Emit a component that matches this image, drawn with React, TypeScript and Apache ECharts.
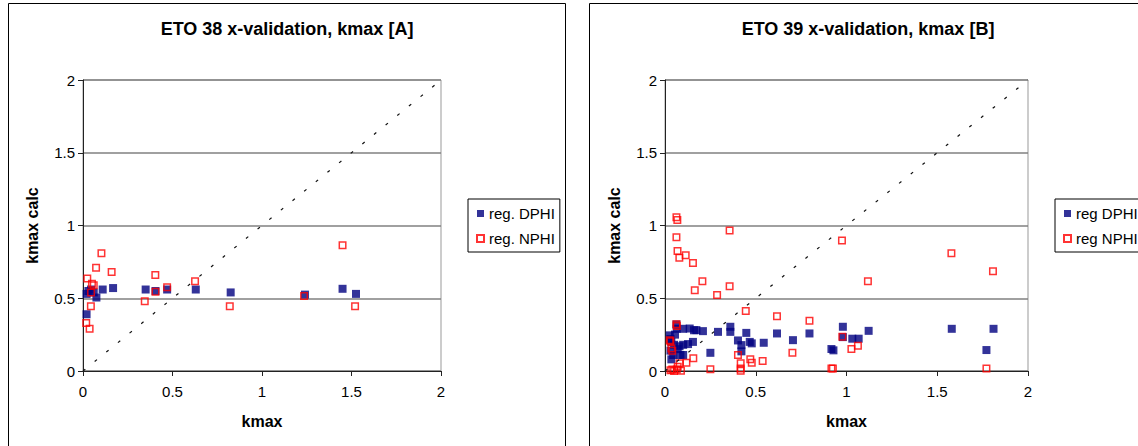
import React, { useEffect, useRef } from "react";
import * as echarts from "echarts";

const titles = ["ETO 38 x-validation, kmax [A]", "ETO 39 x-validation, kmax [B]"];
const xAxisName = "kmax";
const yAxisName = "kmax calc";
const legendA = ["reg. DPHI", "reg. NPHI"];
const legendB = ["reg DPHI", "reg NPHI"];
const axisTicks = [0, 0.5, 1, 1.5, 2];
const diagonal = [[0, 0], [2, 2]];

const dphiA = [
  [0.02, 0.39], [0.02, 0.53], [0.03, 0.55], [0.045, 0.56], [0.06, 0.54], [0.075, 0.505],
  [0.11, 0.56], [0.168, 0.57], [0.35, 0.56], [0.405, 0.55], [0.47, 0.56], [0.63, 0.56],
  [0.825, 0.54], [1.24, 0.525], [1.45, 0.565], [1.525, 0.53],
];
const nphiA = [
  [0.018, 0.33], [0.024, 0.635], [0.037, 0.29], [0.044, 0.445], [0.045, 0.54], [0.05, 0.6],
  [0.06, 0.59], [0.073, 0.71], [0.103, 0.81], [0.16, 0.68], [0.345, 0.48], [0.404, 0.66],
  [0.405, 0.545], [0.47, 0.575], [0.626, 0.616], [0.82, 0.445], [1.235, 0.516],
  [1.45, 0.865], [1.52, 0.445],
];
const dphiB = [
  [0.026, 0.245], [0.03, 0.22], [0.035, 0.2], [0.03, 0.14], [0.035, 0.08], [0.045, 0.11],
  [0.05, 0.18], [0.055, 0.25], [0.063, 0.32], [0.065, 0.29], [0.07, 0.15], [0.08, 0.17],
  [0.085, 0.11], [0.1, 0.29], [0.1, 0.18], [0.1, 0.11], [0.127, 0.185], [0.136, 0.292],
  [0.154, 0.2], [0.16, 0.28], [0.173, 0.281], [0.209, 0.274], [0.25, 0.125], [0.292, 0.269],
  [0.36, 0.304], [0.36, 0.269], [0.402, 0.21], [0.421, 0.178], [0.421, 0.135], [0.448, 0.262],
  [0.467, 0.2], [0.478, 0.19], [0.544, 0.194], [0.617, 0.258], [0.705, 0.212], [0.796, 0.258],
  [0.917, 0.151], [0.928, 0.142], [0.98, 0.304], [0.98, 0.233], [1.032, 0.222], [1.067, 0.222],
  [1.122, 0.276], [1.58, 0.29], [1.81, 0.29], [1.771, 0.144],
];
const nphiB = [
  [0.063, 1.057], [0.068, 1.038], [0.063, 0.92], [0.069, 0.824], [0.079, 0.779], [0.114, 0.795],
  [0.154, 0.742], [0.206, 0.616], [0.164, 0.555], [0.287, 0.523], [0.356, 0.582], [0.356, 0.966],
  [0.445, 0.413], [0.617, 0.377], [0.796, 0.345], [0.975, 0.897], [0.977, 0.235], [1.118, 0.616],
  [1.578, 0.81], [1.807, 0.685], [1.771, 0.018], [1.027, 0.151], [1.063, 0.174], [0.917, 0.018],
  [0.925, 0.018], [0.702, 0.125], [0.538, 0.068], [0.478, 0.057], [0.47, 0.08], [0.417, 0.053],
  [0.417, 0.018], [0.417, 0.002], [0.402, 0.11], [0.25, 0.012], [0.156, 0.087], [0.118, 0.057],
  [0.088, 0.002], [0.081, 0.053], [0.07, 0.03], [0.065, 0.01], [0.05, 0.0], [0.03, 0.005],
  [0.04, 0.01], [0.063, 0.322], [0.065, 0.31], [0.026, 0.212], [0.03, 0.205], [0.035, 0.155],
  [0.04, 0.14],
];

const FONT = "'Liberation Sans', Arial, sans-serif";

export default function App() {
  const ref = useRef<HTMLDivElement>(null);
  useEffect(() => {
    if (!ref.current) return;
    const chart = echarts.init(ref.current, null, { renderer: "svg" });
    const tMin = axisTicks[0];
    const tMax = axisTicks[axisTicks.length - 1];
    const tInt = axisTicks[1] - axisTicks[0];

    const grids = [
      { left: 83, top: 80, width: 358, height: 291 },
      { left: 665, top: 80, width: 363, height: 291 },
    ];
    const mkX = (i: number) => ({
      type: "value", gridIndex: i, min: tMin, max: tMax, interval: tInt,
      name: xAxisName, nameLocation: "middle", nameGap: 42,
      nameTextStyle: { fontFamily: FONT, fontSize: 16, fontWeight: "bold", color: "#000" },
      axisLine: { show: true, onZero: false, lineStyle: { color: "#222", width: 1 } },
      axisTick: { show: true, inside: false, length: 5, lineStyle: { color: "#222" } },
      axisLabel: { fontFamily: FONT, fontSize: 15, color: "#000", margin: 13 },
      splitLine: { show: false },
    });
    const mkY = (i: number) => ({
      type: "value", gridIndex: i, min: tMin, max: tMax, interval: tInt,
      name: yAxisName, nameLocation: "middle", nameGap: 43,
      nameTextStyle: { fontFamily: FONT, fontSize: 16, fontWeight: "bold", color: "#000" },
      axisLine: { show: true, onZero: false, lineStyle: { color: "#222", width: 1 } },
      axisTick: { show: true, inside: false, length: 5, lineStyle: { color: "#222" } },
      axisLabel: { fontFamily: FONT, fontSize: 15, color: "#000", margin: 8 },
      splitLine: { show: true, lineStyle: { color: "#808080", width: 1.5 } },
    });
    const dphiStyle = { color: "#000080" };
    const nphiStyle = { color: "rgba(255,255,255,0)", borderColor: "#ff0000", borderWidth: 1.5 };
    const mkLegend = (names: string[], left: number) => ({
      data: names, orient: "vertical", left, top: 199,
      padding: [7, 5, 6, 8], itemGap: 10, itemWidth: 7, itemHeight: 7,
      borderColor: "#000", borderWidth: 1, backgroundColor: "#fff",
      textStyle: { fontFamily: FONT, fontSize: 15, color: "#000" },
      selectedMode: false,
    });
    const diagSeries = (i: number) => ({
      type: "line", xAxisIndex: i, yAxisIndex: i, data: diagonal, symbol: "none",
      silent: true, clip: false,
      lineStyle: { color: "#111", width: 1.2, type: [3, 12] },
    });
    const titleStyle = { align: "center", verticalAlign: "middle", fontFamily: FONT, fontSize: 18, fontWeight: "bold", fill: "#000" };

    chart.setOption({
      animation: false,
      backgroundColor: "#fff",
      textStyle: { fontFamily: FONT },
      grid: grids.map((g) => ({ ...g, show: true, borderColor: "#999", borderWidth: 1, backgroundColor: "transparent" })),
      xAxis: [mkX(0), mkX(1)],
      yAxis: [mkY(0), mkY(1)],
      legend: [mkLegend(legendA, 468), mkLegend(legendB, 1055)],
      graphic: [
        { type: "rect", shape: { x: 8.5, y: 3.5, width: 557, height: 470 }, style: { fill: "none", stroke: "#000", lineWidth: 1 } },
        { type: "rect", shape: { x: 589.5, y: 3.5, width: 600, height: 470 }, style: { fill: "none", stroke: "#000", lineWidth: 1 } },
        { type: "text", x: 287, y: 29, style: { text: titles[0], ...titleStyle } },
        { type: "text", x: 868, y: 29, style: { text: titles[1], ...titleStyle } },
      ],
      series: [
        diagSeries(0),
        { type: "scatter", name: legendA[0], xAxisIndex: 0, yAxisIndex: 0, data: dphiA, symbol: "rect", symbolSize: 8, itemStyle: dphiStyle },
        { type: "scatter", name: legendA[1], xAxisIndex: 0, yAxisIndex: 0, data: nphiA, symbol: "rect", symbolSize: 6.5, itemStyle: nphiStyle },
        diagSeries(1),
        { type: "scatter", name: legendB[0], xAxisIndex: 1, yAxisIndex: 1, data: dphiB, symbol: "rect", symbolSize: 8, itemStyle: dphiStyle },
        { type: "scatter", name: legendB[1], xAxisIndex: 1, yAxisIndex: 1, data: nphiB, symbol: "rect", symbolSize: 6.5, itemStyle: nphiStyle },
      ],
    });
    return () => chart.dispose();
  }, []);
  return <div ref={ref} style={{ position: "absolute", left: 0, top: 0, width: 1138, height: 446 }} />;
}
